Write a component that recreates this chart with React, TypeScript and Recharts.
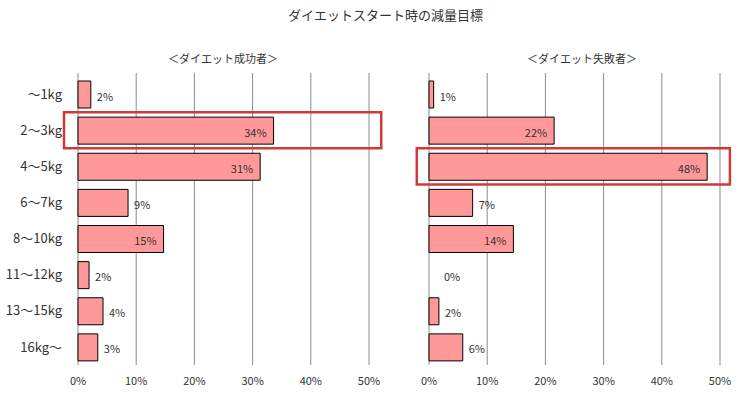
import {
  BarChart,
  Bar,
  XAxis,
  YAxis,
  CartesianGrid,
  LabelList,
  ReferenceArea,
  Rectangle,
} from "recharts";

const categories = ["～1kg", "2～3kg", "4～5kg", "6～7kg", "8～10kg", "11～12kg", "13～15kg", "16kg～"];
const successValues = [2.2, 33.6, 31.3, 8.6, 14.7, 1.9, 4.3, 3.4];
const successLabels = [2, 34, 31, 9, 15, 2, 4, 3];
const failureValues = [0.8, 21.5, 47.8, 7.5, 14.5, 0, 1.7, 5.8];
const failureLabels = [1, 22, 48, 7, 14, 0, 2, 6];
const xTicks = [0, 10, 20, 30, 40, 50];

const FONT = '"Noto Sans CJK JP", "Noto Sans", sans-serif';
const BAR_FILL = "#ff9999";
const GRID = "#8c8c8c";
const BOX = "#d23a3a";
const TEXT = "#333333";

function toRows(values: number[], labels: number[]) {
  return categories.map((name, i) => ({ name, value: values[i], label: labels[i] }));
}

// zero bars get a minimum size so their label is kept, but nothing is drawn
function renderBar(p: any) {
  if (!p.payload || p.payload.value <= 0) return <g />;
  return <Rectangle {...p} />;
}

function renderLabel(p: any) {
  const vb = p.viewBox ?? p;
  const x = Number(vb.x);
  const y = Number(vb.y);
  const w = Number(vb.width) || 0;
  const h = Number(vb.height) || 0;
  const v = Number(p.value);
  let tx = x + w + 6;
  let anchor: "start" | "end" = "start";
  if (v >= 10) {
    tx = x + w - 7;
    anchor = "end";
  } else if (v === 0) {
    tx = x + 15;
  }
  return (
    <text
      x={tx}
      y={y + h / 2 + 1}
      textAnchor={anchor}
      dominantBaseline="central"
      fontSize={11}
      fontFamily={FONT}
      fill={TEXT}
    >
      {`${v}%`}
    </text>
  );
}

function Panel({
  rows,
  width,
  margin,
  showCategories,
  boxCategory,
  boxX,
}: {
  rows: { name: string; value: number; label: number }[];
  width: number;
  margin: { top: number; right: number; left: number; bottom: number };
  showCategories: boolean;
  boxCategory: string;
  boxX: [number, number];
}) {
  return (
    <BarChart
      width={width}
      height={396}
      data={rows}
      layout="vertical"
      margin={margin}
      barSize={27}
    >
      <CartesianGrid horizontal={false} stroke={GRID} />
      <XAxis
        type="number"
        domain={[0, 50]}
        ticks={xTicks}
        tickFormatter={(v) => `${v}%`}
        axisLine={false}
        tickLine={false}
        tickMargin={6}
        height={31}
        tick={{ fontSize: 11, fill: TEXT, fontFamily: FONT }}
      />
      <YAxis
        type="category"
        dataKey="name"
        hide={!showCategories}
        width={78}
        axisLine={false}
        tickLine={false}
        tickMargin={10}
        padding={{ top: 3, bottom: 0 }}
        tick={{ fontSize: 13, fill: TEXT, fontFamily: FONT }}
      />
      <Bar
        dataKey="value"
        fill={BAR_FILL}
        stroke="#000000"
        strokeWidth={1}
        minPointSize={1}
        shape={renderBar}
        isAnimationActive={false}
      >
        <LabelList dataKey="label" content={renderLabel} />
      </Bar>
      <ReferenceArea
        x1={boxX[0]}
        x2={boxX[1]}
        y1={boxCategory}
        y2={boxCategory}
        ifOverflow="visible"
        fill="none"
        fillOpacity={0}
        stroke={BOX}
        strokeWidth={2.5}
      />
    </BarChart>
  );
}

export default function App() {
  return (
    <div
      style={{
        position: "absolute",
        left: 0,
        top: 0,
        width: 751,
        height: 396,
        background: "#ffffff",
        fontFamily: FONT,
        color: TEXT,
      }}
    >
      <div style={{ position: "absolute", left: 0, width: 771, top: 5, textAlign: "center", fontSize: 13, lineHeight: "20px" }}>
        ダイエットスタート時の減量目標
      </div>
      <div style={{ position: "absolute", left: 123, width: 200, top: 48, textAlign: "center", fontSize: 11, lineHeight: "20px" }}>
        ＜ダイエット成功者＞
      </div>
      <div style={{ position: "absolute", left: 482, width: 200, top: 48, textAlign: "center", fontSize: 11, lineHeight: "20px" }}>
        ＜ダイエット失敗者＞
      </div>
      <div style={{ position: "absolute", left: 0, top: 0 }}>
        <Panel
          rows={toRows(successValues, successLabels)}
          width={390}
          margin={{ top: 73, right: 21, left: 0, bottom: 0 }}
          showCategories
          boxCategory="2～3kg"
          boxX={[-2.4, 52.1]}
        />
      </div>
      <div style={{ position: "absolute", left: 390, top: 0 }}>
        <Panel
          rows={toRows(failureValues, failureLabels)}
          width={361}
          margin={{ top: 73, right: 31, left: 39, bottom: 0 }}
          showCategories={false}
          boxCategory="4～5kg"
          boxX={[-2.1, 51.7]}
        />
      </div>
    </div>
  );
}
